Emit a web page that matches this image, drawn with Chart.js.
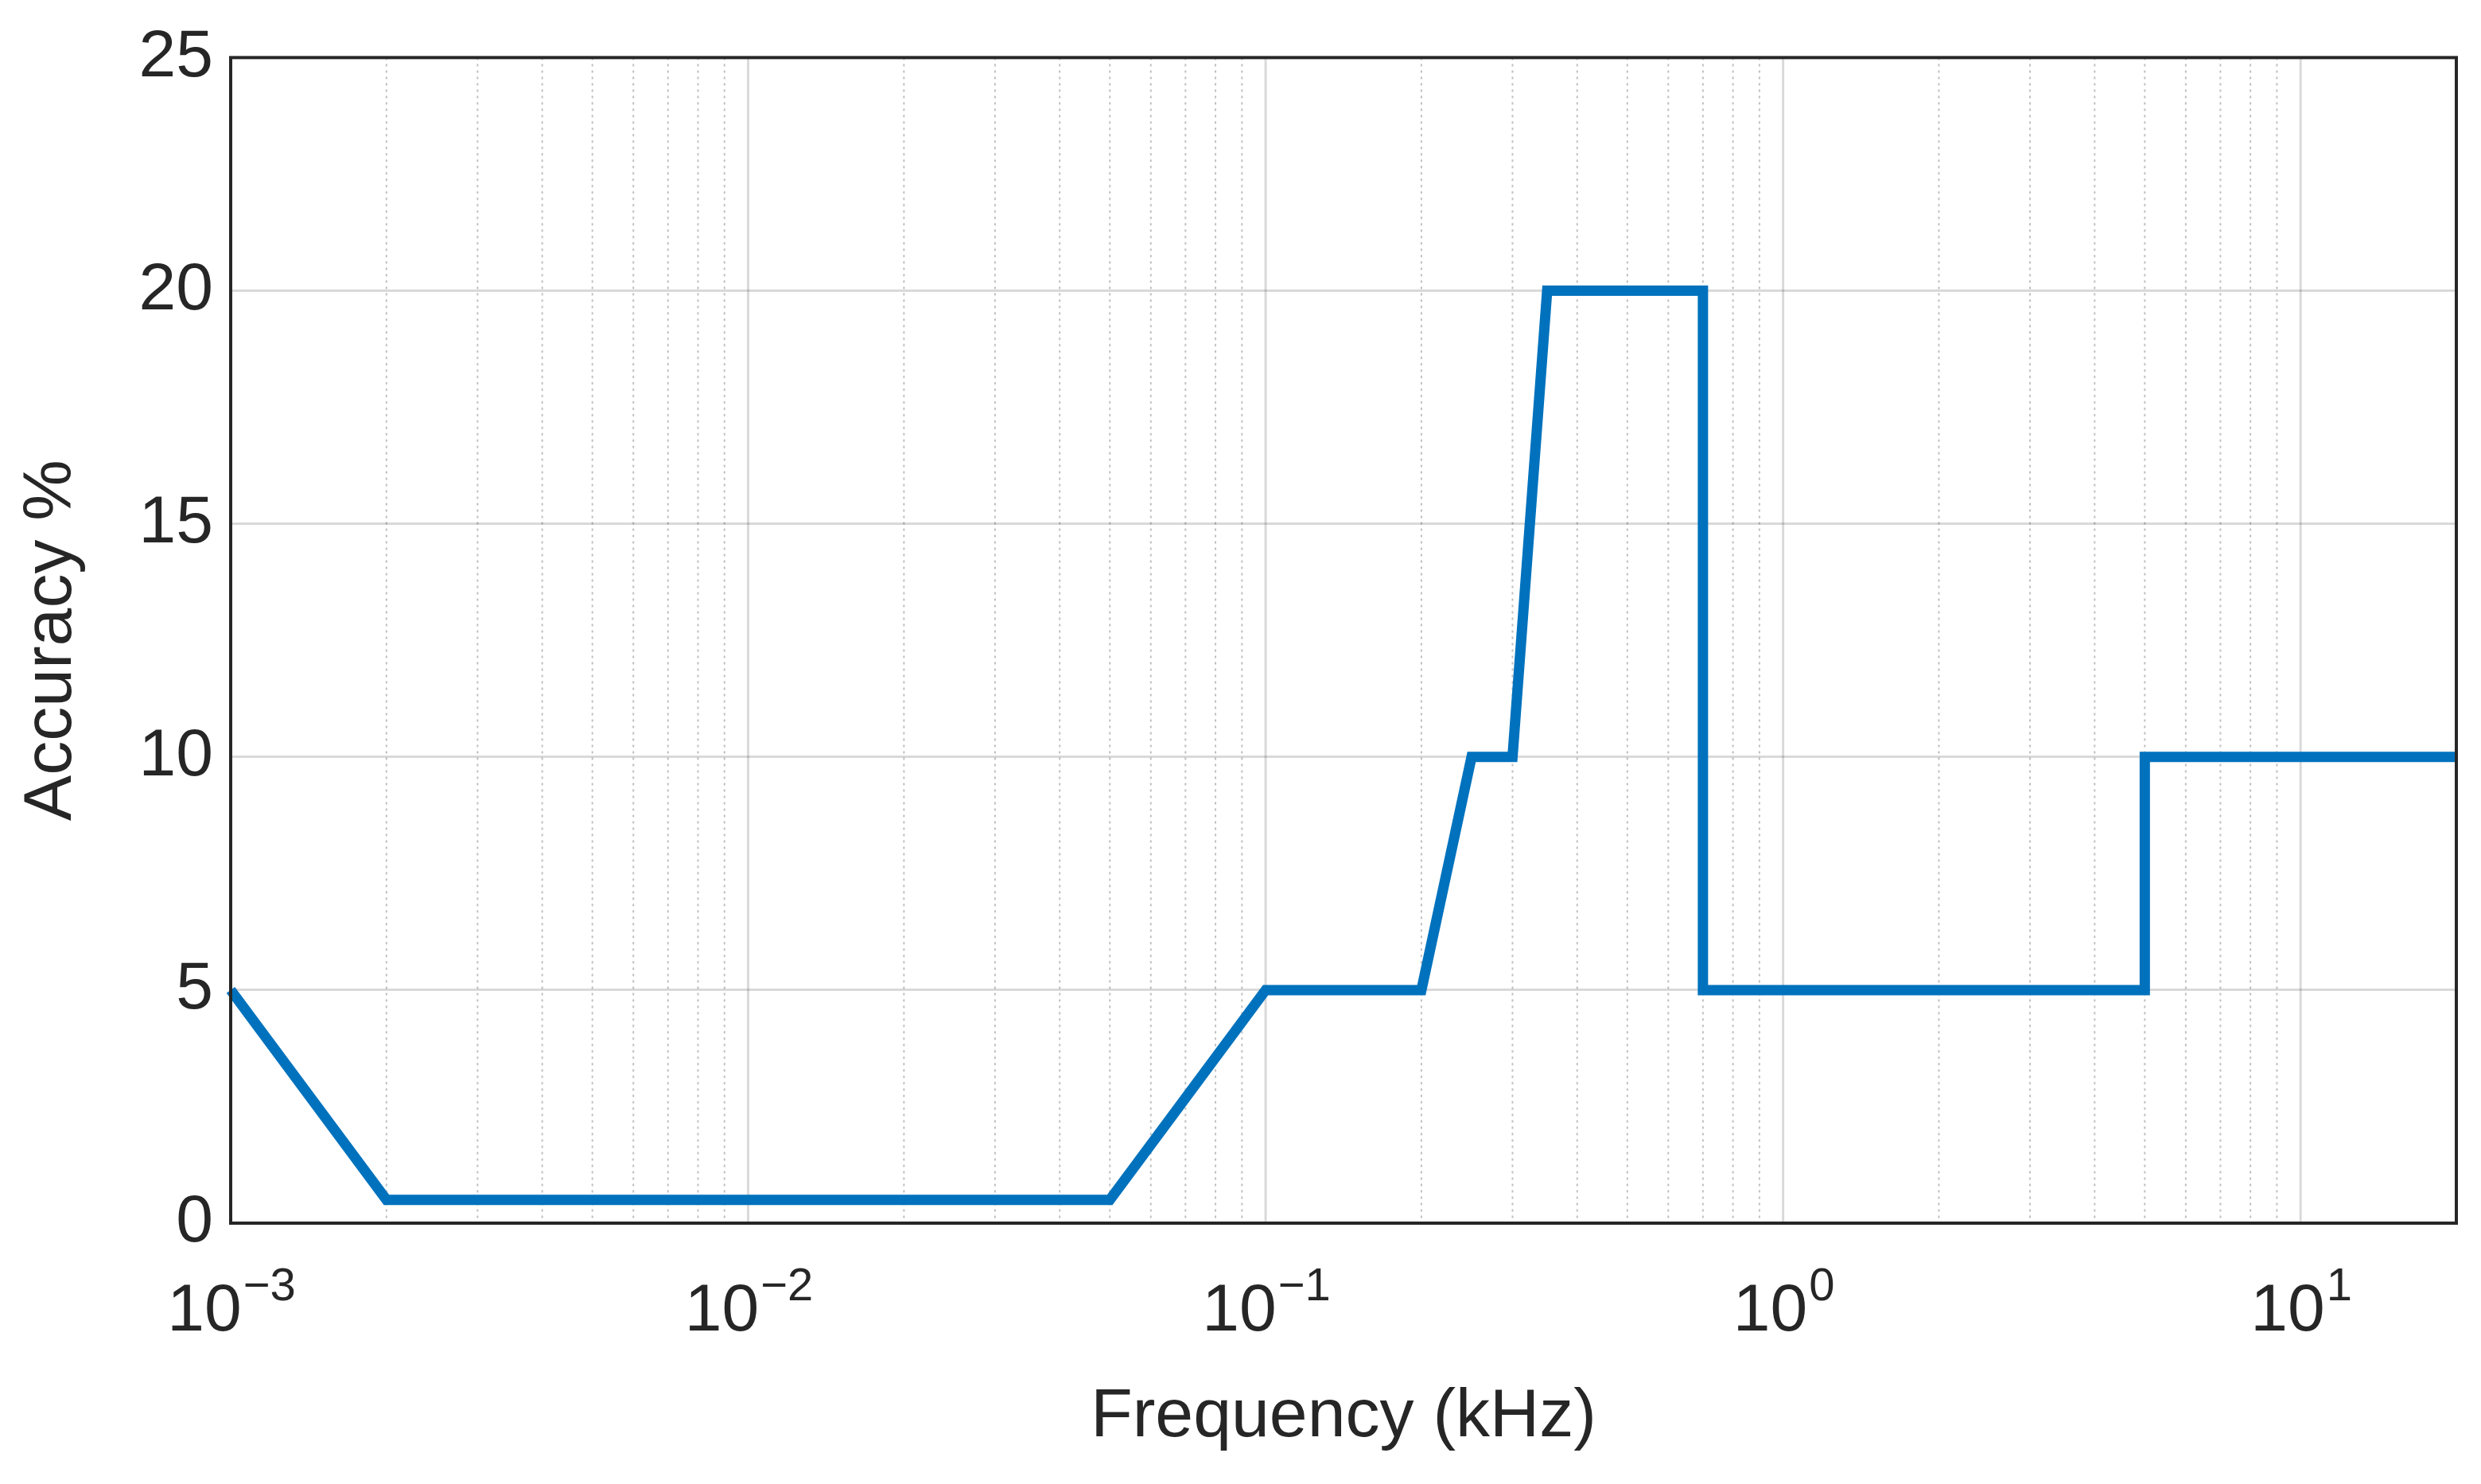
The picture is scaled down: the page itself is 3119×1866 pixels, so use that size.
<!DOCTYPE html>
<html>
<head>
<meta charset="utf-8">
<script src="https://cdn.jsdelivr.net/npm/chart.js@4"></script>
<style>
  html, body { margin: 0; padding: 0; background: #fff; }
  #wrap { width: 3119px; height: 1866px; }
</style>
</head>
<body>
<div id="wrap"><canvas id="c" width="3119" height="1866"></canvas></div>
<script>
// Accuracy curve
const freqKHz = [0.001, 0.002, 0.05, 0.1, 0.2, 0.25, 0.3, 0.35, 0.7, 0.7, 5, 5, 20];
const accuracy = [5, 0.5, 0.5, 5, 5, 10, 10, 20, 20, 5, 5, 10, 10];
const decadeExponents = [-3, -2, -1, 0, 1];
const yTicks = [0, 5, 10, 15, 20, 25];

const TEXT = '#262626';
const FONT = '"Liberation Sans", Arial, Helvetica, sans-serif';

// log grid (major solid, minor dotted), decade labels with superscripts, frame
const frameAndGrid = {
    id: 'frameAndGrid',
    beforeDatasetsDraw(chart) {
        const { ctx, chartArea: a } = chart;
        const x = chart.scales.x;
        ctx.save();
        for (let e = -3; e <= 1; e++) {
            for (let m = 1; m <= 9; m++) {
                const v = m * Math.pow(10, e);
                if (v > 20) break;
                const px = x.getPixelForValue(v);
                if (px <= a.left + 1 || px >= a.right - 1) continue;
                ctx.beginPath();
                ctx.strokeStyle = m === 1 ? 'rgba(0,0,0,0.15)' : 'rgba(0,0,0,0.25)';
                ctx.lineWidth = m === 1 ? 3 : 2;
                ctx.setLineDash(m === 1 ? [] : [3, 5]);
                ctx.moveTo(px, a.top);
                ctx.lineTo(px, a.bottom);
                ctx.stroke();
            }
        }
        ctx.restore();
    },
    afterDatasetsDraw(chart) {
        const { ctx, chartArea: a } = chart;
        const x = chart.scales.x;
        ctx.save();
        ctx.setLineDash([]);
        ctx.strokeStyle = TEXT;
        ctx.lineWidth = 4;
        ctx.strokeRect(a.left, a.top, a.right - a.left, a.bottom - a.top);
        ctx.fillStyle = TEXT;
        ctx.textBaseline = 'alphabetic';
        decadeExponents.forEach(e => {
            const px = x.getPixelForValue(Math.pow(10, e));
            ctx.font = '84px ' + FONT;
            const base = '10';
            const bw = ctx.measureText(base).width;
            ctx.font = '58px ' + FONT;
            const sup = String(e).replace('-', '\u2212');
            const sw = ctx.measureText(sup).width;
            const start = px - (bw + sw) / 2;
            const y0 = a.bottom + 135;
            ctx.font = '84px ' + FONT;
            ctx.textAlign = 'left';
            ctx.fillText(base, start, y0);
            ctx.font = '58px ' + FONT;
            ctx.fillText(sup, start + bw + 2, y0 - 38);
        });
        ctx.restore();
    }
};

new Chart(document.getElementById('c'), {
    type: 'scatter',
    data: {
        datasets: [{
            data: freqKHz.map((f, i) => ({ x: f, y: accuracy[i] })),
            showLine: true,
            borderColor: '#0072BD',
            borderWidth: 13,
            pointRadius: 0,
            tension: 0,
            borderJoinStyle: 'miter',
            clip: false
        }]
    },
    options: {
        responsive: false,
        animation: false,
        layout: { padding: { top: 70, right: 31, left: 0, bottom: 0 } },
        plugins: { legend: { display: false }, tooltip: { enabled: false } },
        scales: {
            x: {
                type: 'logarithmic',
                min: 0.001,
                max: 20,
                grid: { display: false },
                border: { display: false },
                ticks: { display: false },
                title: {
                    display: true,
                    text: 'Frequency (kHz)',
                    color: TEXT,
                    font: { family: FONT, size: 86 },
                    padding: { top: 0, bottom: 32 }
                },
                afterFit(scale) { scale.height = 328; }
            },
            y: {
                min: 0,
                max: 25,
                afterBuildTicks(scale) { scale.ticks = yTicks.map(v => ({ value: v })); },
                grid: { color: 'rgba(0,0,0,0.15)', lineWidth: 3, drawTicks: false },
                border: { display: false },
                ticks: {
                    color: TEXT,
                    font: { family: FONT, size: 84 },
                    padding: 22
                },
                title: {
                    display: true,
                    text: 'Accuracy %',
                    color: TEXT,
                    font: { family: FONT, size: 86 },
                    padding: { top: 14, bottom: 6 }
                },
                afterFit(scale) { scale.width = 290; }
            }
        }
    },
    plugins: [frameAndGrid]
});
</script>
</body>
</html>
